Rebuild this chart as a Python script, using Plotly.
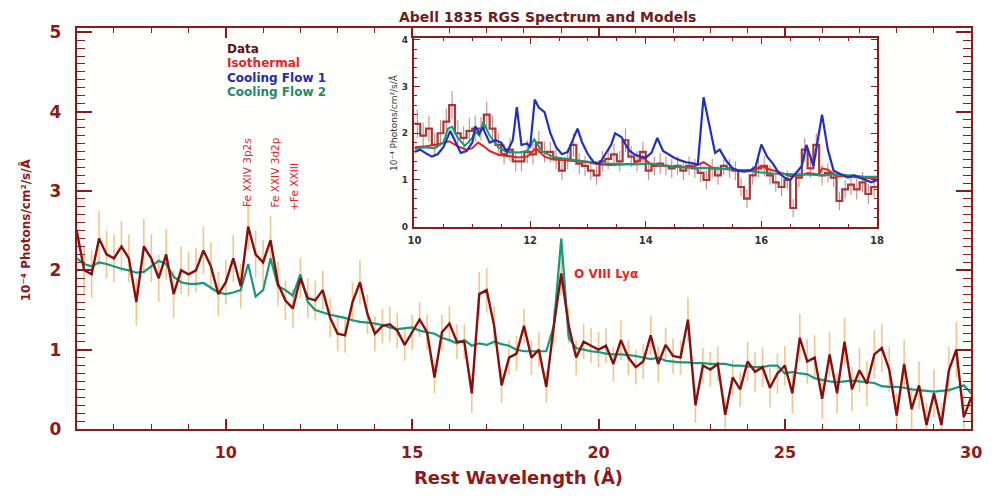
import plotly.graph_objects as go

# ---------------- main spectrum (6-30 A) ----------------
wave = [6.0, 6.2, 6.4, 6.6, 6.8, 7.0, 7.2, 7.4, 7.6, 7.8,
        8.0, 8.2, 8.4, 8.6, 8.8, 9.0, 9.2, 9.4, 9.6, 9.8,
        10.0, 10.2, 10.4, 10.6, 10.8, 11.0, 11.2, 11.4, 11.6, 11.8,
        12.0, 12.2, 12.4, 12.6, 12.8, 13.0, 13.2, 13.4, 13.6, 13.8,
        14.0, 14.2, 14.4, 14.6, 14.8, 15.0, 15.2, 15.4, 15.6, 15.8,
        16.0, 16.2, 16.4, 16.6, 16.8, 17.0, 17.2, 17.4, 17.6, 17.8,
        18.0, 18.2, 18.4, 18.6, 18.8, 19.0, 19.2, 19.4, 19.6, 19.8,
        20.0, 20.2, 20.4, 20.6, 20.8, 21.0, 21.2, 21.4, 21.6, 21.8,
        22.0, 22.2, 22.4, 22.6, 22.8, 23.0, 23.2, 23.4, 23.6, 23.8,
        24.0, 24.2, 24.4, 24.6, 24.8, 25.0, 25.2, 25.4, 25.6, 25.8,
        26.0, 26.2, 26.4, 26.6, 26.8, 27.0, 27.2, 27.4, 27.6, 27.8,
        28.0, 28.2, 28.4, 28.6, 28.8, 29.0, 29.2, 29.4, 29.6, 29.8,
        30.0]

flux = [2.50, 2.00, 1.95, 2.40, 2.20, 2.15, 2.30, 2.15, 1.60, 2.30,
        2.15, 1.90, 2.20, 1.70, 2.00, 1.95, 2.00, 2.25, 2.05, 1.70,
        1.85, 2.15, 1.80, 2.55, 2.20, 2.10, 2.38, 1.83, 1.62, 1.52,
        1.90, 1.65, 1.62, 1.75, 1.40, 1.20, 1.18, 1.60, 1.85, 1.45,
        1.20, 1.30, 1.32, 1.24, 1.06, 1.22, 1.38, 1.22, 0.65, 1.22,
        1.33, 1.10, 1.10, 0.45, 1.70, 1.75, 1.30, 0.55, 0.90, 0.95,
        1.30, 0.90, 1.00, 0.53, 1.30, 1.96, 1.30, 0.90, 1.10, 1.05,
        1.00, 1.05, 0.82, 1.12, 0.90, 0.78, 0.85, 1.18, 0.82, 1.06,
        0.92, 0.90, 1.38, 0.30, 0.80, 0.75, 0.82, 0.18, 0.65, 0.50,
        0.85, 0.72, 0.78, 0.52, 0.70, 0.80, 0.45, 1.15, 0.85, 0.90,
        0.38, 0.94, 0.45, 1.10, 0.50, 0.74, 0.57, 0.94, 1.02, 0.75,
        0.17, 0.82, 0.25, 0.55, 0.05, 0.45, 0.05, 0.74, 1.00, 0.15,
        0.40]

flux_err = [0.35, 0.30, 0.30, 0.35, 0.30, 0.30, 0.32, 0.30, 0.30, 0.35,
            0.30, 0.30, 0.32, 0.30, 0.30, 0.28, 0.28, 0.30, 0.30, 0.28,
            0.28, 0.30, 0.28, 0.30, 0.30, 0.28, 0.30, 0.28, 0.25, 0.25,
            0.25, 0.25, 0.25, 0.25, 0.25, 0.22, 0.22, 0.25, 0.28, 0.25,
            0.22, 0.22, 0.22, 0.22, 0.20, 0.22, 0.22, 0.22, 0.20, 0.22,
            0.22, 0.22, 0.22, 0.25, 0.28, 0.28, 0.25, 0.22, 0.22, 0.22,
            0.22, 0.22, 0.22, 0.20, 0.22, 0.28, 0.22, 0.22, 0.22, 0.22,
            0.22, 0.22, 0.22, 0.25, 0.22, 0.22, 0.22, 0.25, 0.22, 0.22,
            0.22, 0.22, 0.28, 0.22, 0.22, 0.22, 0.22, 0.22, 0.22, 0.22,
            0.25, 0.25, 0.25, 0.25, 0.25, 0.25, 0.25, 0.30, 0.28, 0.28,
            0.25, 0.28, 0.25, 0.30, 0.28, 0.28, 0.28, 0.30, 0.30, 0.28,
            0.28, 0.30, 0.28, 0.30, 0.28, 0.30, 0.28, 0.30, 0.35, 0.30,
            0.30]

cf2_main = [2.15, 2.08, 2.05, 2.10, 2.08, 2.05, 2.02, 2.00, 1.97, 1.98,
            2.05, 2.12, 2.08, 1.92, 1.85, 1.83, 1.83, 1.84, 1.78, 1.72,
            1.70, 1.72, 1.75, 2.08, 1.67, 1.75, 2.15, 1.80, 1.75, 1.68,
            1.95, 1.60, 1.50, 1.47, 1.44, 1.42, 1.40, 1.37, 1.35, 1.34,
            1.33, 1.31, 1.28, 1.26, 1.27, 1.28, 1.24, 1.22, 1.20, 1.15,
            1.12, 1.08, 1.12, 1.05, 1.08, 1.06, 1.10, 1.07, 1.05, 1.00,
            0.98, 0.98, 0.98, 0.98, 1.30, 2.40, 1.15, 1.02, 1.00, 0.98,
            0.97, 0.95, 0.94, 0.94, 0.93, 0.92, 0.90, 0.88, 0.90, 0.86,
            0.85, 0.84, 0.84, 0.83, 0.83, 0.82, 0.82, 0.82, 0.80, 0.80,
            0.79, 0.78, 0.78, 0.80, 0.80, 0.70, 0.72, 0.70, 0.69, 0.64,
            0.62, 0.60, 0.59, 0.60, 0.61, 0.60, 0.59, 0.58, 0.54, 0.53,
            0.53, 0.52, 0.50, 0.49, 0.48, 0.47, 0.48, 0.49, 0.52, 0.55,
            0.45]

# ---------------- inset (10-18 A) ----------------
bin_left = [10.0, 10.1, 10.2, 10.3, 10.4, 10.5, 10.6, 10.7, 10.8, 10.9,
            11.0, 11.1, 11.2, 11.3, 11.4, 11.5, 11.6, 11.7, 11.8, 11.9,
            12.0, 12.1, 12.2, 12.3, 12.4, 12.5, 12.6, 12.7, 12.8, 12.9,
            13.0, 13.1, 13.2, 13.3, 13.4, 13.5, 13.6, 13.7, 13.8, 13.9,
            14.0, 14.1, 14.2, 14.3, 14.4, 14.5, 14.6, 14.7, 14.8, 14.9,
            15.0, 15.1, 15.2, 15.3, 15.4, 15.5, 15.6, 15.7, 15.8, 15.9,
            16.0, 16.1, 16.2, 16.3, 16.4, 16.5, 16.6, 16.7, 16.8, 16.9,
            17.0, 17.1, 17.2, 17.3, 17.4, 17.5, 17.6, 17.7, 17.8, 17.9]
bin_width = 0.1

inset_flux = [2.20, 1.95, 2.10, 1.75, 2.00, 2.25, 2.60, 2.00, 1.90, 2.05,
              2.10, 2.10, 2.40, 2.10, 1.75, 1.55, 1.65, 1.40, 1.40, 1.60,
              1.55, 1.80, 1.60, 1.60, 1.45, 1.20, 1.45, 1.75, 1.35, 1.30,
              1.20, 1.10, 1.40, 1.45, 1.55, 1.40, 1.85, 1.50, 1.40, 1.60,
              1.20, 1.30, 1.35, 1.30, 1.25, 1.30, 1.20, 1.30, 1.25, 1.15,
              1.00, 1.25, 1.10, 1.30, 1.25, 1.20, 0.85, 0.60, 1.10, 1.25,
              1.30, 1.10, 0.95, 0.85, 1.00, 0.40, 1.05, 1.65, 1.25, 1.75,
              1.10, 1.15, 1.05, 0.55, 0.80, 0.90, 0.80, 0.95, 0.70, 0.85]

inset_err = [0.30, 0.28, 0.28, 0.25, 0.28, 0.28, 0.30, 0.28, 0.25, 0.28,
             0.28, 0.25, 0.28, 0.28, 0.25, 0.22, 0.25, 0.22, 0.22, 0.25,
             0.22, 0.25, 0.22, 0.22, 0.22, 0.20, 0.22, 0.25, 0.22, 0.22,
             0.20, 0.20, 0.22, 0.22, 0.22, 0.22, 0.25, 0.22, 0.22, 0.22,
             0.20, 0.20, 0.22, 0.20, 0.20, 0.20, 0.20, 0.20, 0.20, 0.20,
             0.20, 0.20, 0.20, 0.20, 0.20, 0.20, 0.20, 0.20, 0.20, 0.20,
             0.22, 0.20, 0.20, 0.20, 0.20, 0.20, 0.20, 0.25, 0.20, 0.25,
             0.22, 0.20, 0.20, 0.20, 0.20, 0.22, 0.22, 0.22, 0.22, 0.22]

cf1_wave = [10.0, 10.1, 10.2, 10.3, 10.4, 10.5, 10.62, 10.7, 10.8, 10.9,
            11.0, 11.05, 11.12, 11.18, 11.3, 11.4, 11.5, 11.6, 11.7, 11.77,
            11.85, 11.95, 12.0, 12.08, 12.15, 12.25, 12.35, 12.45, 12.55, 12.65,
            12.73, 12.82, 12.9, 13.0, 13.1, 13.2, 13.3, 13.4, 13.47, 13.58,
            13.7, 13.8, 13.9, 14.0, 14.1, 14.2, 14.3, 14.4, 14.5, 14.6,
            14.7, 14.8, 14.9, 15.0, 15.15, 15.2, 15.28, 15.4, 15.5, 15.6,
            15.7, 15.8, 15.9, 16.0, 16.1, 16.2, 16.3, 16.4, 16.5, 16.6,
            16.7, 16.78, 16.9, 17.05, 17.15, 17.25, 17.4, 17.5, 17.6, 17.7,
            17.8, 17.9, 18.0]
cf1_flux = [1.60, 1.65, 1.57, 1.50, 1.55, 1.70, 2.05, 1.85, 1.58, 1.62,
            1.80, 2.15, 2.00, 2.12, 1.80, 1.85, 1.80, 1.60, 1.85, 2.56,
            1.75, 1.78, 1.70, 2.72, 2.55, 2.45, 2.00, 1.70, 1.55, 1.60,
            1.85, 2.10, 1.80, 1.55, 1.38, 1.35, 1.55, 1.75, 2.00, 1.92,
            1.65, 1.55, 1.50, 1.48, 1.58, 1.90, 1.62, 1.55, 1.47, 1.42,
            1.38, 1.36, 1.33, 2.77, 1.90, 1.58, 1.65, 1.40, 1.25, 1.20,
            1.18, 1.20, 1.28, 1.76, 1.50, 1.35, 1.15, 1.05, 1.00, 1.15,
            1.30, 1.75, 1.30, 2.40, 1.65, 1.20, 1.10, 1.05, 1.10, 1.05,
            1.00, 0.95, 1.00]

iso_wave = [10.0, 10.2, 10.4, 10.6, 10.75, 10.9, 11.0, 11.1, 11.2, 11.3,
            11.45, 11.6, 11.8, 11.95, 12.1, 12.25, 12.4, 12.6, 12.8, 13.0,
            13.2, 13.4, 13.6, 13.8, 13.95, 14.1, 14.3, 14.5, 14.7, 14.85,
            15.0, 15.15, 15.3, 15.5, 15.7, 15.9, 16.0, 16.1, 16.3, 16.5,
            16.7, 16.8, 17.0, 17.05, 17.15, 17.3, 17.5, 17.7, 17.9, 18.0]
iso_flux = [1.70, 1.72, 1.76, 1.83, 1.72, 1.65, 1.68, 1.80, 1.72, 1.62,
            1.54, 1.52, 1.48, 1.50, 1.68, 1.50, 1.44, 1.42, 1.40, 1.38,
            1.33, 1.32, 1.33, 1.35, 1.48, 1.32, 1.30, 1.28, 1.27, 1.30,
            1.38, 1.26, 1.24, 1.22, 1.21, 1.22, 1.30, 1.24, 1.17, 1.08,
            1.10, 1.15, 1.12, 1.25, 1.22, 1.08, 1.08, 1.05, 1.04, 1.05]

cf2_wave = [10.0, 10.15, 10.35, 10.5, 10.58, 10.65, 10.75, 10.87, 11.0, 11.05,
            11.12, 11.19, 11.3, 11.45, 11.6, 11.8, 11.95, 12.07, 12.2, 12.4,
            12.7, 13.0, 13.3, 13.5, 13.8, 14.1, 14.3, 14.6, 14.9, 15.0,
            15.2, 15.5, 15.8, 16.0, 16.2, 16.5, 16.8, 17.1, 17.3, 17.5,
            17.8, 18.0]
cf2_flux = [1.66, 1.70, 1.68, 1.80, 2.10, 2.14, 1.90, 1.73, 1.90, 2.04,
            1.95, 2.25, 1.95, 1.70, 1.60, 1.59, 1.62, 1.87, 1.62, 1.49,
            1.44, 1.39, 1.35, 1.34, 1.33, 1.35, 1.31, 1.27, 1.25, 1.26,
            1.24, 1.23, 1.18, 1.16, 1.14, 1.13, 1.12, 1.10, 1.12, 1.10,
            1.07, 1.07]

# ---------------- styling ----------------
MAROON = "#8B1A1A"
DATA_C = "#861010"
ERR_C = "#F5C48E"
GREEN = "#16987A"
BLUE = "#1F2FC2"
RED = "#E8231E"
STEP_C = "#A23A3A"
FONT = "DejaVu Sans"
YTITLE = "10⁻⁴ Photons/cm²/s/Å"

fig = go.Figure()

# main plot
fig.add_trace(go.Scatter(
    x=wave, y=flux, mode="markers", marker=dict(size=1, color="rgba(0,0,0,0)"),
    error_y=dict(type="data", array=flux_err, color=ERR_C, thickness=1.6, width=0),
    xaxis="x", yaxis="y", showlegend=False, hoverinfo="skip"))
fig.add_trace(go.Scatter(x=wave, y=cf2_main, mode="lines",
                         line=dict(color=GREEN, width=2.2),
                         xaxis="x", yaxis="y", showlegend=False))
fig.add_trace(go.Scatter(x=wave, y=flux, mode="lines",
                         line=dict(color=DATA_C, width=2.4),
                         xaxis="x", yaxis="y", showlegend=False))

# inset
centers = [b + bin_width / 2 for b in bin_left]
step_x = bin_left + [bin_left[-1] + bin_width]
step_y = inset_flux + [inset_flux[-1]]
fig.add_trace(go.Scatter(
    x=centers, y=inset_flux, mode="markers", marker=dict(size=1, color="rgba(0,0,0,0)"),
    error_y=dict(type="data", array=inset_err, color="#C98A8A", thickness=1.1, width=0),
    xaxis="x2", yaxis="y2", showlegend=False, hoverinfo="skip"))
fig.add_trace(go.Scatter(x=step_x, y=step_y, mode="lines", line_shape="hv",
                         line=dict(color=STEP_C, width=2.2),
                         xaxis="x2", yaxis="y2", showlegend=False))
fig.add_trace(go.Scatter(x=iso_wave, y=iso_flux, mode="lines",
                         line=dict(color=RED, width=2),
                         xaxis="x2", yaxis="y2", showlegend=False))
fig.add_trace(go.Scatter(x=cf2_wave, y=cf2_flux, mode="lines",
                         line=dict(color=GREEN, width=2),
                         xaxis="x2", yaxis="y2", showlegend=False))
fig.add_trace(go.Scatter(x=cf1_wave, y=cf1_flux, mode="lines",
                         line=dict(color=BLUE, width=2.2),
                         xaxis="x2", yaxis="y2", showlegend=False))

W, H = 995, 500
def px_x(p):
    return p / W
def px_y(p):
    return 1 - p / H

main_ax = dict(showline=True, linecolor=MAROON, linewidth=2, mirror="allticks",
               ticks="inside", tickcolor=MAROON, showgrid=False, zeroline=False)

fig.update_layout(
    width=W, height=H, margin=dict(l=0, r=0, t=0, b=0),
    paper_bgcolor="#FFFFFF", plot_bgcolor="#FFFFFE",
    font=dict(family=FONT),
    xaxis=dict(domain=[px_x(71), px_x(982)], range=[6, 30], tick0=0, dtick=5,
               ticklen=10, tickwidth=1.5,
               minor=dict(dtick=1, tick0=0, ticklen=5, ticks="inside", tickcolor=MAROON, tickwidth=1.2),
               tickfont=dict(size=16, color=MAROON, family=FONT, weight="bold"),
               ticklabelstandoff=8, anchor="y", **main_ax),
    yaxis=dict(domain=[px_y(437), px_y(23)], range=[0, 5.05], tick0=0, dtick=1,
               ticklen=15, tickwidth=1.5,
               minor=dict(dtick=0.1, tick0=0, ticklen=8, ticks="inside", tickcolor=MAROON, tickwidth=1.2),
               tickfont=dict(size=17, color=MAROON, family=FONT, weight="bold"),
               ticklabelstandoff=10, anchor="x", **main_ax),
    xaxis2=dict(domain=[px_x(415), px_x(886)], range=[10, 18], tick0=10, dtick=2,
                ticklen=6, tickwidth=1.2,
                minor=dict(dtick=0.5, tick0=10, ticklen=3, ticks="inside", tickcolor=MAROON),
                tickfont=dict(size=10, color="#333333", family=FONT, weight="bold"),
                ticklabelstandoff=3, anchor="y2",
                showline=True, linecolor=MAROON, linewidth=1.6, mirror="allticks",
                ticks="inside", tickcolor=MAROON, showgrid=False, zeroline=False),
    yaxis2=dict(domain=[px_y(228), px_y(33)], range=[0, 4.04], tick0=0, dtick=1,
                ticklen=6, tickwidth=1.2,
                minor=dict(dtick=0.2, tick0=0, ticklen=3, ticks="inside", tickcolor=MAROON),
                tickfont=dict(size=9, color="#333333", family=FONT, weight="bold"),
                ticklabelstandoff=3, anchor="x2",
                showline=True, linecolor=MAROON, linewidth=1.6, mirror="allticks",
                ticks="inside", tickcolor=MAROON, showgrid=False, zeroline=False),
)

# white backing for inset
fig.add_shape(type="rect", xref="x2", yref="y2", x0=10, x1=18, y0=0, y1=4.04,
              fillcolor="white", line=dict(width=0), layer="below")

ann = []
def add_text(text, x, y, size, color, angle=0, xanchor="center", yanchor="middle", bold=True):
    ann.append(dict(text=text, x=px_x(x), y=px_y(y), xref="paper", yref="paper",
                    showarrow=False, textangle=angle, xanchor=xanchor, yanchor=yanchor,
                    font=dict(size=size, color=color, family=FONT,
                              weight="bold" if bold else "normal")))

add_text("Abell 1835 RGS Spectrum and Models", 550, 11, 14, "#6E1C1C")
add_text("Rest Wavelength (Å)", 521, 487, 18, MAROON)
add_text(YTITLE, 19, 231, 12, MAROON, angle=-90)
add_text(YTITLE, 393, 120, 9, "#333333", angle=-90, bold=False)

# legend (coloured labels)
add_text("Data", 222, 44, 12, "#5A1010", xanchor="left")
add_text("Isothermal", 222, 59, 12, RED, xanchor="left")
add_text("Cooling Flow 1", 222, 74, 12, "#1E2BB0", xanchor="left")
add_text("Cooling Flow 2", 222, 89, 12, "#1E8A6A", xanchor="left")

# line identifications
add_text("Fe XXIV 3p2s", 245, 172, 10.5, RED, angle=-90, bold=False)
add_text("Fe XXIV 3d2p", 273, 172, 10.5, RED, angle=-90, bold=False)
add_text("+Fe XXIII", 292, 187, 10.5, RED, angle=-90, bold=False)
add_text("O VIII Lyα", 575, 277, 12, RED, xanchor="left")

fig.update_layout(annotations=ann)
fig.write_html("out.html")
